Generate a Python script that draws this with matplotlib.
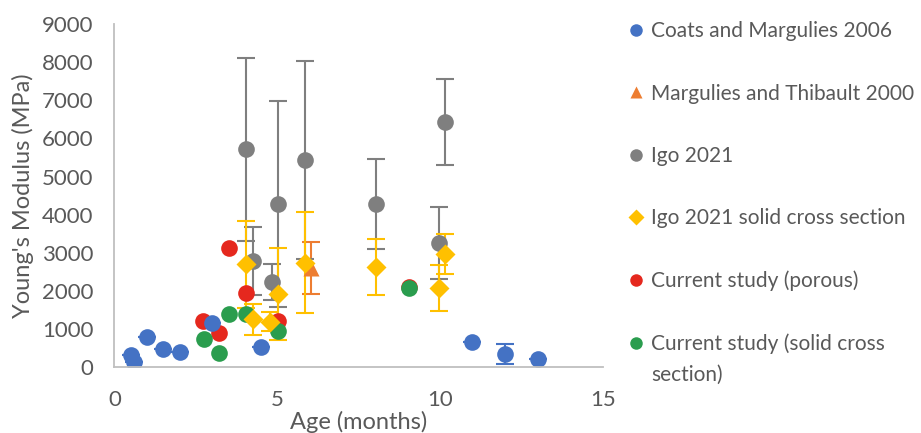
import numpy as np
import matplotlib.pyplot as plt
from matplotlib.lines import Line2D

# Coats and Margulies 2006
coats_age = [0.5, 0.6, 1.0, 1.5, 2.0, 3.0, 4.5, 11.0, 12.0, 13.0]
coats_mod = [330, 150, 810, 480, 410, 1160, 545, 660, 355, 215]
coats_err = [0, 0, 0, 0, 0, 0, 0, 0, 270, 0]

# Margulies and Thibault 2000
marg_age = [6.05]
marg_mod = [2600]
marg_err = [680]

# Igo 2021
igo_age = [4.03, 4.25, 4.83, 5.03, 5.84, 8.05, 9.96, 10.17]
igo_mod = [5720, 2790, 2240, 4280, 5440, 4280, 3270, 6430]
igo_err = [2400, 880, 460, 2690, 2590, 1180, 940, 1130]

# Igo 2021 solid cross section
igos_age = [4.03, 4.25, 4.78, 5.03, 5.84, 8.05, 9.96, 10.17]
igos_mod = [2700, 1260, 1200, 1920, 2750, 2640, 2075, 2975]
igos_err = [1140, 410, 250, 1200, 1315, 730, 600, 515]

# Current study
por_age = [2.73, 3.22, 3.52, 4.03, 5.03, 9.06]
por_mod = [1225, 895, 3120, 1945, 1225, 2120]
sol_age = [2.75, 3.22, 3.52, 4.03, 5.03, 9.06]
sol_mod = [745, 370, 1400, 1400, 965, 2075]

txt = '#595959'
plt.rcParams['font.family'] = ['Lato', 'DejaVu Sans']

fig = plt.figure(figsize=(9.21, 4.33), dpi=100)
ax = fig.add_axes([0.1243, 0.1513, 0.530, 0.7933])

ms = 12
eb = dict(elinewidth=1.5, capsize=6.5, capthick=1.5, mec='none')
ax.errorbar(coats_age, coats_mod, yerr=coats_err, fmt='o', color='#4472C4',
            ms=ms, ecolor='#4472C4', **eb)
ax.errorbar(marg_age, marg_mod, yerr=marg_err, fmt='^', color='#ED7D31',
            ms=ms, ecolor='#ED7D31', **eb)
ax.errorbar(igo_age, igo_mod, yerr=igo_err, fmt='o', color='#7F7F7F',
            ms=ms, ecolor='#7F7F7F', **eb)
ax.errorbar(igos_age, igos_mod, yerr=igos_err, fmt='D', color='#FFC000',
            ms=10, ecolor='#FFC000', **eb)
ax.plot(por_age, por_mod, 'o', color='#E5281E', ms=ms, mec='none')
ax.plot(sol_age, sol_mod, 'o', color='#2A9D4E', ms=ms, mec='none')

ax.set_xlim(0, 15)
ax.set_ylim(0, 9000)
ax.set_xticks([0, 5, 10, 15])
ax.set_yticks(np.arange(0, 9001, 1000))
ax.tick_params(length=0, labelsize=16, colors=txt)
ax.tick_params(axis='x', pad=16)
ax.tick_params(axis='y', pad=15)
for s in ['top', 'right']:
    ax.spines[s].set_visible(False)
for s in ['left', 'bottom']:
    ax.spines[s].set_color('#BFBFBF')
    ax.spines[s].set_linewidth(1.3)
ax.set_xlabel('Age (months)', fontsize=17, color=txt, labelpad=1)
ax.set_ylabel("Young's Modulus (MPa)", fontsize=17, color=txt, labelpad=6)

handles = [
    Line2D([], [], ls='none', marker='o', color='#4472C4', ms=9, mec='none'),
    Line2D([], [], ls='none', marker='^', color='#ED7D31', ms=9, mec='none'),
    Line2D([], [], ls='none', marker='o', color='#7F7F7F', ms=9, mec='none'),
    Line2D([], [], ls='none', marker='D', color='#FFC000', ms=8, mec='none'),
    Line2D([], [], ls='none', marker='o', color='#E5281E', ms=9, mec='none'),
    Line2D([], [], ls='none', marker='o', color='#2A9D4E', ms=9, mec='none'),
]
labels = ['Coats and Margulies 2006', 'Margulies and Thibault 2000', 'Igo 2021',
          'Igo 2021 solid cross section', 'Current study (porous)',
          'Current study (solid cross']
leg = fig.legend(handles, labels, loc='upper left', bbox_to_anchor=(0.682, 0.951),
                 frameon=False, fontsize=15, labelspacing=2.03, handlelength=0.8,
                 handletextpad=0.3, borderpad=0, borderaxespad=0)
for t in leg.get_texts():
    t.set_color(txt)

# wrapped second line of the last legend entry
fig.canvas.draw()
bb = leg.get_texts()[-1].get_window_extent().transformed(fig.transFigure.inverted())
fig.text(bb.x0, bb.y0 - 31 / 433, 'section)', fontsize=15, color=txt,
         ha='left', va='bottom')

fig.savefig('out.png', dpi=100)
